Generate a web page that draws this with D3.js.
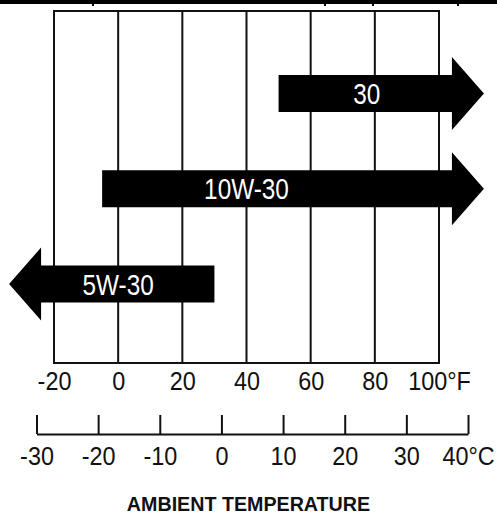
<!DOCTYPE html>
<html>
<head>
<meta charset="utf-8">
<script src="https://cdn.jsdelivr.net/npm/d3@7"></script>
<style>
  html, body { margin: 0; padding: 0; background: #fff; }
  svg { display: block; }
  text { font-family: "Liberation Sans", Arial, sans-serif; }
</style>
</head>
<body>
<div id="chart"></div>
<script>
// oil grade bands
const grades = ["30", "10W-30", "5W-30"];
const fromF = [50, -5, -34];      // left end of each band (°F); 5W-30 is open to the left
const toF = [114, 114, 30];       // right end (°F); 30 and 10W-30 are open to the right
const openSide = ["right", "right", "left"];
const labelF = [77.5, 40, 0];     // where the grade name sits

const fahrenheitTicks = [-20, 0, 20, 40, 60, 80, 100];
const celsiusTicks = [-30, -20, -10, 0, 10, 20, 30, 40];
const axisTitle = "AMBIENT TEMPERATURE";

const width = 497;
const height = 515;
const gridTop = 11, gridBottom = 363;
const cAxisY = 434;
const bodyH = 37, headH = 73, headLen = 32;

const xF = d3.scaleLinear().domain([-20, 100]).range([54, 439]);
const xC = d3.scaleLinear().domain([-30, 40]).range([36.5, 468]);
const y = d3.scalePoint().domain(grades).range([93.5, 284]);

const svg = d3.create("svg")
  .attr("width", width)
  .attr("height", height)
  .attr("viewBox", [0, 0, width, height]);

// the cut-off table rule above the chart
svg.append("rect")
  .attr("x", 0).attr("y", 0)
  .attr("width", width).attr("height", 4)
  .attr("fill", "#000");
svg.append("g")
  .selectAll("rect")
  .data([93, 325, 373, 458])
  .join("rect")
  .attr("x", d => d - 1).attr("y", 3)
  .attr("width", 2).attr("height", 3)
  .attr("fill", "#000");

// frame and vertical grid lines
svg.append("rect")
  .attr("x", xF(-20)).attr("y", gridTop)
  .attr("width", xF(100) - xF(-20)).attr("height", gridBottom - gridTop)
  .attr("fill", "none")
  .attr("stroke", "#111")
  .attr("stroke-width", 2);

svg.append("g")
  .selectAll("line")
  .data(fahrenheitTicks.slice(1, -1))
  .join("line")
  .attr("x1", d => xF(d)).attr("x2", d => xF(d))
  .attr("y1", gridTop).attr("y2", gridBottom)
  .attr("stroke", "#111")
  .attr("stroke-width", 2);

// arrows
function arrowPath(i) {
  const x0 = xF(fromF[i]), x1 = xF(toF[i]), cy = y(grades[i]);
  const bt = cy - bodyH / 2, bb = cy + bodyH / 2;
  const ht = cy - headH / 2, hb = cy + headH / 2;
  const p = d3.path();
  if (openSide[i] === "right") {
    const hx = x1 - headLen;
    p.moveTo(x0, bt); p.lineTo(hx, bt); p.lineTo(hx, ht); p.lineTo(x1, cy);
    p.lineTo(hx, hb); p.lineTo(hx, bb); p.lineTo(x0, bb);
  } else {
    const hx = x0 + headLen;
    p.moveTo(x1, bt); p.lineTo(hx, bt); p.lineTo(hx, ht); p.lineTo(x0, cy);
    p.lineTo(hx, hb); p.lineTo(hx, bb); p.lineTo(x1, bb);
  }
  p.closePath();
  return p.toString();
}

const arrows = svg.append("g")
  .selectAll("g")
  .data(grades)
  .join("g");

arrows.append("path")
  .attr("d", (d, i) => arrowPath(i))
  .attr("fill", "#000");

arrows.append("text")
  .attr("transform", (d, i) => `translate(${xF(labelF[i])},${y(d) + 10.5}) scale(0.84,1)`)
  .attr("text-anchor", "middle")
  .attr("fill", "#fff")
  .attr("font-size", 29)
  .text(d => d);

// Fahrenheit labels under the grid
const fAxis = svg.append("g")
  .attr("transform", `translate(0,${gridBottom})`)
  .call(d3.axisBottom(xF)
    .tickValues(fahrenheitTicks)
    .tickSize(0)
    .tickPadding(9)
    .tickFormat(d => d === 100 ? "100°F" : String(d)));
fAxis.select(".domain").remove();
fAxis.selectAll("text")
  .attr("font-family", "Liberation Sans, Arial, sans-serif")
  .attr("font-size", 26)
  .attr("fill", "#111")
  .attr("transform", "scale(0.9,1)");

// Celsius scale with upward ticks
const cAxis = svg.append("g")
  .attr("transform", `translate(0,${cAxisY})`)
  .call(d3.axisBottom(xC)
    .tickValues(celsiusTicks)
    .tickSizeInner(-19)
    .tickSizeOuter(0)
    .tickPadding(13)
    .tickFormat(d => d === 40 ? "40°C" : String(d)));
cAxis.select(".domain")
  .attr("stroke", "#111")
  .attr("stroke-width", 2);
cAxis.selectAll(".tick line")
  .attr("stroke", "#111")
  .attr("stroke-width", 2);
cAxis.selectAll("text")
  .attr("font-family", "Liberation Sans, Arial, sans-serif")
  .attr("font-size", 26)
  .attr("fill", "#111")
  .attr("transform", "scale(0.9,1)");

svg.append("text")
  .attr("transform", `translate(${width / 2},510.5) scale(0.96,1)`)
  .attr("text-anchor", "middle")
  .attr("font-size", 20.5)
  .attr("font-weight", "bold")
  .attr("fill", "#111")
  .text(axisTitle);

document.getElementById("chart").append(svg.node());
</script>
</body>
</html>
